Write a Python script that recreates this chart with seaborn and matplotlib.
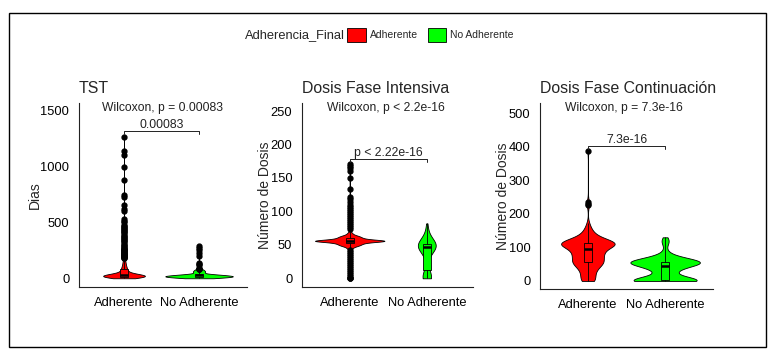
import numpy as np
import pandas as pd
import matplotlib
matplotlib.use('Agg')
import matplotlib.pyplot as plt
import matplotlib.transforms as mtransforms
from matplotlib.patches import Patch, Rectangle
import seaborn as sns

# ================= DATOS =================
GRUPOS = ['Adherente', 'No Adherente']
COLORES = {'Adherente': '#FF0000', 'No Adherente': '#00FF00'}

# TST (dias) - valores y frecuencias
tst_adh_vals = [0, 5, 10, 15, 20, 25, 30, 35, 40, 50, 60, 70, 80, 90, 100,
                110, 120, 130, 140, 150, 160, 170, 180, 190, 200, 210]
tst_adh_counts = [14, 24, 32, 36, 36, 34, 30, 26, 22, 14, 12, 10, 9, 8, 7,
                  6, 5, 5, 4, 4, 3, 3, 2, 2, 2, 2]
tst_adh_extremos = [215, 220, 225, 230, 235, 240, 245, 250, 255, 260, 265, 270,
                    280, 290, 300, 310, 320, 330, 340, 350, 360, 370, 380, 390,
                    400, 410, 420, 430, 440, 450, 460, 470, 480, 500, 510, 530,
                    600, 620, 650, 730, 740, 880, 990, 1100, 1140, 1260]
tst_noadh_vals = [0, 5, 10, 15, 20, 25, 30, 35, 40, 50, 60, 70, 80, 90]
tst_noadh_counts = [6, 9, 12, 14, 14, 12, 9, 6, 4, 4, 5, 4, 3, 1]
tst_noadh_extremos = [115, 125, 135, 200, 230, 250, 270, 290]

# Dosis fase intensiva
int_adh_vals = [44, 46, 48, 49, 50, 51, 52, 53, 54, 55, 56, 57, 58, 59, 60,
                61, 62, 63, 64, 66, 68]
int_adh_counts = [3, 4, 6, 6, 7, 7, 8, 9, 10, 12, 50, 12, 10, 9, 8,
                  7, 7, 6, 6, 4, 3]
int_adh_extremos = [0, 0, 0, 3, 6, 9, 12, 15, 18, 21, 24, 27, 30, 33, 36, 39, 42,
                    70, 73, 76, 79, 82, 85, 88, 91, 94, 97, 100, 103, 106, 110,
                    114, 118, 121, 134, 150, 161, 165, 168, 171]
int_noadh_vals = [0, 1, 2, 4, 6, 10, 16, 22, 28, 34, 38, 42, 45, 47, 49, 51,
                  53, 56, 60, 66, 74, 82]
int_noadh_counts = [6, 2, 2, 2, 1, 1, 1, 1, 1, 1, 2, 3, 4, 5, 5, 5, 4, 3, 2,
                    2, 1, 1]

# Dosis fase continuacion
con_adh_vals = [0, 4, 10, 18, 24, 30, 36, 44, 50, 56, 62, 68, 74, 80, 86,
                94, 100, 106, 112, 118, 124, 134, 144, 154, 164, 172]
con_adh_counts = [8, 4, 3, 4, 4, 4, 5, 6, 9, 12, 8, 5, 8, 10, 10,
                  8, 8, 10, 38, 10, 8, 8, 5, 3, 2, 1]
con_adh_extremos = [225, 230, 236, 386]
con_noadh_vals = [0, 4, 10, 18, 26, 34, 40, 45, 50, 54, 57, 60, 64, 70, 76,
                  86, 98, 112, 118, 124, 130]
con_noadh_counts = [38, 11, 6, 5, 5, 6, 7, 8, 10, 12, 14, 10, 8, 6, 4,
                    2, 1, 2, 2, 2, 1]


def muestra(*pares):
    partes = [np.repeat(v, n) for v, n in pares]
    return np.concatenate(partes).astype(float)


def armar_df(a, b):
    return pd.DataFrame({
        'grupo': ['Adherente'] * len(a) + ['No Adherente'] * len(b),
        'valor': np.concatenate([a, b]),
    })


def nrd0(kde):
    # ancho de banda tipo R (bw.nrd0), relativo a la desviacion estandar
    x = kde.dataset[0]
    sd = x.std(ddof=1)
    q75, q25 = np.percentile(x, [75, 25])
    lo = min(sd, (q75 - q25) / 1.34)
    if lo <= 0:
        lo = sd
    return 0.9 * lo * len(x) ** -0.2 / sd


def panel(ax, df, titulo, ylab, yticks, ylim, xlim, p_txt, p_corto):
    sns.violinplot(data=df, x='grupo', y='valor', hue='grupo', order=GRUPOS,
                   hue_order=GRUPOS, palette=COLORES, saturation=1, cut=0,
                   inner=None, density_norm='area', common_norm=True, width=0.9,
                   gridsize=512, bw_method=nrd0, linewidth=0.6, linecolor='black',
                   legend=False, ax=ax)
    sns.boxplot(data=df, x='grupo', y='valor', hue='grupo', order=GRUPOS,
                hue_order=GRUPOS, palette=COLORES, saturation=1, width=0.1,
                linewidth=0.6, linecolor='black', showcaps=False, fliersize=3.5,
                flierprops=dict(marker='o', markerfacecolor='black',
                                markeredgecolor='black'),
                medianprops=dict(linewidth=1.8, color='black'),
                legend=False, ax=ax)

    ax.set_ylim(*ylim)
    ax.set_xlim(*xlim)
    ax.set_yticks(yticks)
    ax.set_title(titulo, loc='left', fontsize=11.4, pad=7)
    ax.set_ylabel(ylab, fontsize=10, labelpad=-1)
    ax.set_xlabel('')
    ax.tick_params(axis='both', labelsize=9.3, colors='black', length=3.5, width=0.8)
    for lado in ['top', 'right']:
        ax.spines[lado].set_visible(False)
    for lado in ['left', 'bottom']:
        ax.spines[lado].set_linewidth(0.8)
        ax.spines[lado].set_color('#222222')

    # comparacion de medias
    trans = mtransforms.blended_transform_factory(ax.transData, ax.transAxes)
    ax.text(-0.3, 0.975, p_txt, transform=trans, ha='left', va='center',
            fontsize=8.7, color='#222222')
    y_br = df['valor'].max() * 1.045
    d = (ylim[1] - ylim[0]) * 0.02
    ax.plot([0, 0, 1, 1], [y_br - d, y_br, y_br, y_br - d], color='#222222', lw=0.7)
    ax.text(0.5, y_br, p_corto, ha='center', va='bottom', fontsize=8.8,
            color='#222222')


sns.set_style('white')
plt.rcParams['font.family'] = ['Liberation Sans', 'DejaVu Sans']

fig = plt.figure(figsize=(7.68, 3.5), dpi=100)
ax1 = fig.add_axes([0.1029, 0.18, 0.2188, 0.5257])
ax2 = fig.add_axes([0.3932, 0.18, 0.2227, 0.5257])
ax3 = fig.add_axes([0.7031, 0.1743, 0.2253, 0.5314])

df_tst = armar_df(muestra((tst_adh_vals, tst_adh_counts), (tst_adh_extremos, 1)),
                  muestra((tst_noadh_vals, tst_noadh_counts), (tst_noadh_extremos, 1)))
df_int = armar_df(muestra((int_adh_vals, int_adh_counts), (int_adh_extremos, 1)),
                  muestra((int_noadh_vals, int_noadh_counts)))
df_con = armar_df(muestra((con_adh_vals, con_adh_counts), (con_adh_extremos, 1)),
                  muestra((con_noadh_vals, con_noadh_counts)))

panel(ax1, df_tst, 'TST', 'Dias', [0, 500, 1000, 1500], (-78, 1565), (-0.6, 1.64),
      'Wilcoxon, p = 0.00083', '0.00083')
panel(ax2, df_int, 'Dosis Fase Intensiva', 'Número de Dosis', [0, 50, 100, 150, 200, 250],
      (-13, 262), (-0.62, 1.6), 'Wilcoxon, p < 2.2e-16', 'p < 2.22e-16')
panel(ax3, df_con, 'Dosis Fase Continuación', 'Número de Dosis',
      [0, 100, 200, 300, 400, 500], (-24, 530), (-0.62, 1.62),
      'Wilcoxon, p = 7.3e-16', '7.3e-16')

# leyenda superior
fig.text(0.319, 0.9, 'Adherencia_Final', fontsize=9.3, ha='left', va='center')
handles = [Patch(facecolor=COLORES[g], edgecolor='black', linewidth=0.6, label=g)
           for g in GRUPOS]
fig.legend(handles=handles, ncol=2, loc='center left', bbox_to_anchor=(0.452, 0.9),
           frameon=False, fontsize=7.5, handlelength=1.8, handleheight=1.8,
           handletextpad=0.4, columnspacing=0.9, borderpad=0, borderaxespad=0)

# marco exterior
fig.patches.append(Rectangle((0.0117, 0.0086), 0.9857, 0.9543, transform=fig.transFigure,
                             fill=False, edgecolor='black', linewidth=1.0))

fig.savefig('out.png', dpi=100, facecolor='white')
